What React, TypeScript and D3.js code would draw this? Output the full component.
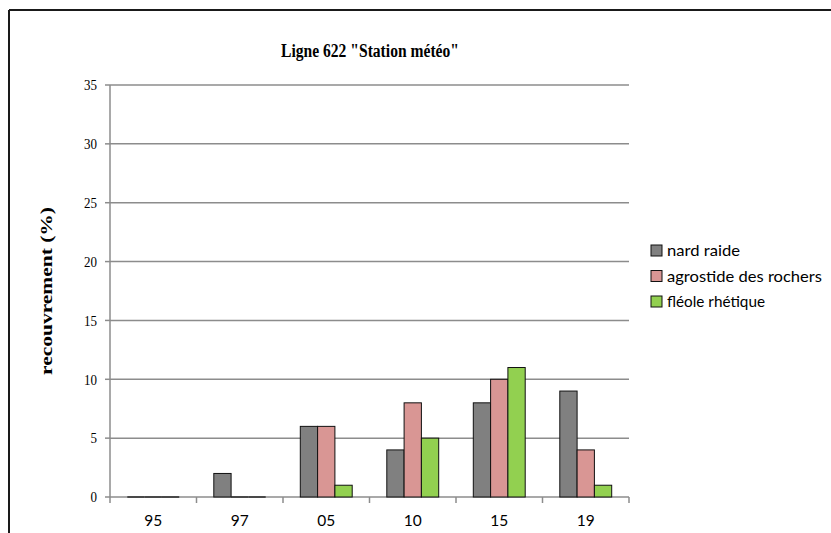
import React from "react";
import * as d3 from "d3";

const categories = ["95", "97", "05", "10", "15", "19"];
const seriesNames = ["nard raide", "agrostide des rochers", "fléole rhétique"];
const nardRaide = [0, 2, 6, 4, 8, 9];
const agrostide = [0, 0, 6, 8, 10, 4];
const fleole = [0, 0, 1, 5, 11, 1];
const yTicks = [0, 5, 10, 15, 20, 25, 30, 35];
const colors = ["#808080", "#D99694", "#92D050"];
const legendLengths = [73, 155, 98];

const W = 831;
const H = 533;
const plot = { left: 110, right: 629, top: 85, bottom: 497 };
const serif = "'Liberation Serif', 'Times New Roman', serif";
const sans = "Lato, 'Open Sans', sans-serif";

export default function App() {
  const seriesValues = [nardRaide, agrostide, fleole];
  const x = d3.scaleBand<string>().domain(categories).range([plot.left, plot.right]).paddingInner(0).paddingOuter(0);
  const inner = d3
    .scaleBand<number>()
    .domain([0, 1, 2])
    .range([0, x.bandwidth()])
    .paddingInner(0)
    .paddingOuter(1);
  const y = d3.scaleLinear().domain([0, 35]).range([plot.bottom, plot.top]);
  const bw = inner.bandwidth();

  return (
    <svg
      width={W}
      height={H}
      style={{ position: "absolute", left: 0, top: 0, background: "#fff" }}
    >
      <rect x={0} y={0} width={W} height={H} fill="#fff" />
      {/* border */}
      <line x1={9} y1={10} x2={W} y2={10} stroke="#1a1a1a" strokeWidth={2} />
      <line x1={9} y1={10} x2={9} y2={H} stroke="#1a1a1a" strokeWidth={2} />

      {/* title */}
      <text
        x={370}
        y={57}
        textAnchor="middle"
        fontFamily={serif}
        fontWeight="bold"
        fontSize={18}
        textLength={178}
        lengthAdjust="spacingAndGlyphs"
        fill="#000"
      >
        Ligne 622 "Station météo"
      </text>

      {/* gridlines */}
      {yTicks.map((t) => (
        <g key={t}>
          {t > 0 && (
            <line x1={plot.left} x2={plot.right} y1={y(t)} y2={y(t)} stroke="#8c8c8c" strokeWidth={1.5} />
          )}
          <line x1={plot.left - 5} x2={plot.left} y1={y(t)} y2={y(t)} stroke="#8c8c8c" strokeWidth={1.5} />
          <text
            x={97}
            y={y(t)}
            dy="0.35em"
            textAnchor="end"
            fontFamily={serif}
            fontSize={15}
            textLength={6.5 * String(t).length}
            lengthAdjust="spacingAndGlyphs"
            fill="#000"
          >
            {t}
          </text>
        </g>
      ))}

      {/* y axis label */}
      <text
        transform={`translate(46,${(plot.top + plot.bottom) / 2}) rotate(-90)`}
        textAnchor="middle"
        dy="0.35em"
        fontFamily={serif}
        fontWeight="bold"
        fontSize={17}
        textLength={168}
        lengthAdjust="spacingAndGlyphs"
        fill="#000"
      >
        recouvrement (%)
      </text>

      {/* axes */}
      <line x1={plot.left} x2={plot.left} y1={plot.top} y2={plot.bottom} stroke="#8c8c8c" strokeWidth={1.5} />
      <line x1={plot.left} x2={plot.right} y1={plot.bottom} y2={plot.bottom} stroke="#8c8c8c" strokeWidth={1.5} />
      {categories.map((c) => (
        <line
          key={"t" + c}
          x1={x(c) as number}
          x2={x(c) as number}
          y1={plot.bottom}
          y2={plot.bottom + 6}
          stroke="#8c8c8c"
          strokeWidth={1.5}
        />
      ))}
      <line x1={plot.right} x2={plot.right} y1={plot.bottom} y2={plot.bottom + 6} stroke="#8c8c8c" strokeWidth={1.5} />

      {/* bars */}
      {categories.map((c, ci) => (
        <g key={c}>
          {seriesValues.map((vals, si) => {
            const bx = (x(c) as number) + (inner(si) as number);
            const v = vals[ci];
            if (v === 0) {
              return (
                <line
                  key={si}
                  x1={bx}
                  x2={bx + bw}
                  y1={y(0)}
                  y2={y(0)}
                  stroke="#2a2a2a"
                  strokeWidth={1.5}
                />
              );
            }
            return (
              <rect
                key={si}
                x={bx}
                y={y(v)}
                width={bw}
                height={y(0) - y(v)}
                fill={colors[si]}
                stroke="#111"
                strokeWidth={1}
              />
            );
          })}
        </g>
      ))}

      {categories.map((c) => (
        <text
          key={"l" + c}
          x={(x(c) as number) + x.bandwidth() / 2}
          y={521}
          dy="0.35em"
          textAnchor="middle"
          fontFamily={sans}
          fontSize={15.5}
          fill="#000"
        >
          {c}
        </text>
      ))}

      {/* legend */}
      {seriesNames.map((n, i) => (
        <g key={n} transform={`translate(651,${250.5 + i * 25.5})`}>
          <rect x={0} y={-5.5} width={11} height={11} fill={colors[i]} stroke="#111" strokeWidth={1} />
          <text
            x={16}
            y={0}
            dy="0.35em"
            fontFamily={sans}
            fontSize={16}
            textLength={legendLengths[i]}
            lengthAdjust="spacingAndGlyphs"
            fill="#000"
          >
            {n}
          </text>
        </g>
      ))}
    </svg>
  );
}
